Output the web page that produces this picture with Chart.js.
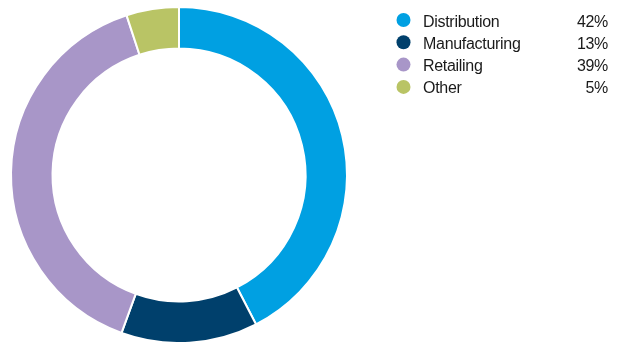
<!DOCTYPE html>
<html>
<head>
<meta charset="utf-8">
<script src="https://cdn.jsdelivr.net/npm/chart.js@4"></script>
<style>
  html, body { margin: 0; padding: 0; background: #fff; }
  #wrap { width: 619px; height: 342px; position: relative; }
</style>
</head>
<body>
<div id="wrap"><canvas id="segmentos"></canvas></div>
<script>
const categorias = ['Distribution', 'Manufacturing', 'Retailing', 'Other'];
const porcentajes = [42, 13, 39, 5];
const colores = ['#00a0e2', '#00406c', '#a896c8', '#b9c465'];

// leyenda a la derecha con porcentaje alineado
const leyendaDerecha = {
    id: 'leyendaDerecha',
    afterDraw(chart) {
        const ctx = chart.ctx;
        ctx.save();
        ctx.font = '16px "Liberation Sans", Arial, sans-serif';
        ctx.letterSpacing = '-0.3px';
        ctx.textBaseline = 'alphabetic';
        categorias.forEach((nombre, i) => {
            const y = 20 + i * 22.3;
            ctx.beginPath();
            ctx.arc(403.5, y, 7, 0, Math.PI * 2);
            ctx.fillStyle = colores[i];
            ctx.fill();
            ctx.fillStyle = '#1a1a1a';
            ctx.textAlign = 'left';
            ctx.fillText(nombre, 423, y + 6.5);
            ctx.textAlign = 'right';
            ctx.fillText(porcentajes[i] + '%', 608, y + 6.5);
        });
        ctx.restore();
    }
};

const ctx = document.querySelector('#segmentos').getContext('2d');

new Chart(ctx, {
    type: 'doughnut',
    data: {
        labels: categorias,
        datasets: [{
            data: porcentajes,
            backgroundColor: colores,
            borderColor: '#ffffff',
            borderWidth: 2
        }]
    },
    options: {
        responsive: true,
        maintainAspectRatio: false,
        animation: false,
        radius: 168,
        cutout: 125,
        layout: {
            padding: { left: 12, top: 8, right: 273, bottom: 0 }
        },
        plugins: {
            legend: { display: false },
            tooltip: { enabled: false }
        }
    },
    plugins: [leyendaDerecha]
});
</script>
</body>
</html>
